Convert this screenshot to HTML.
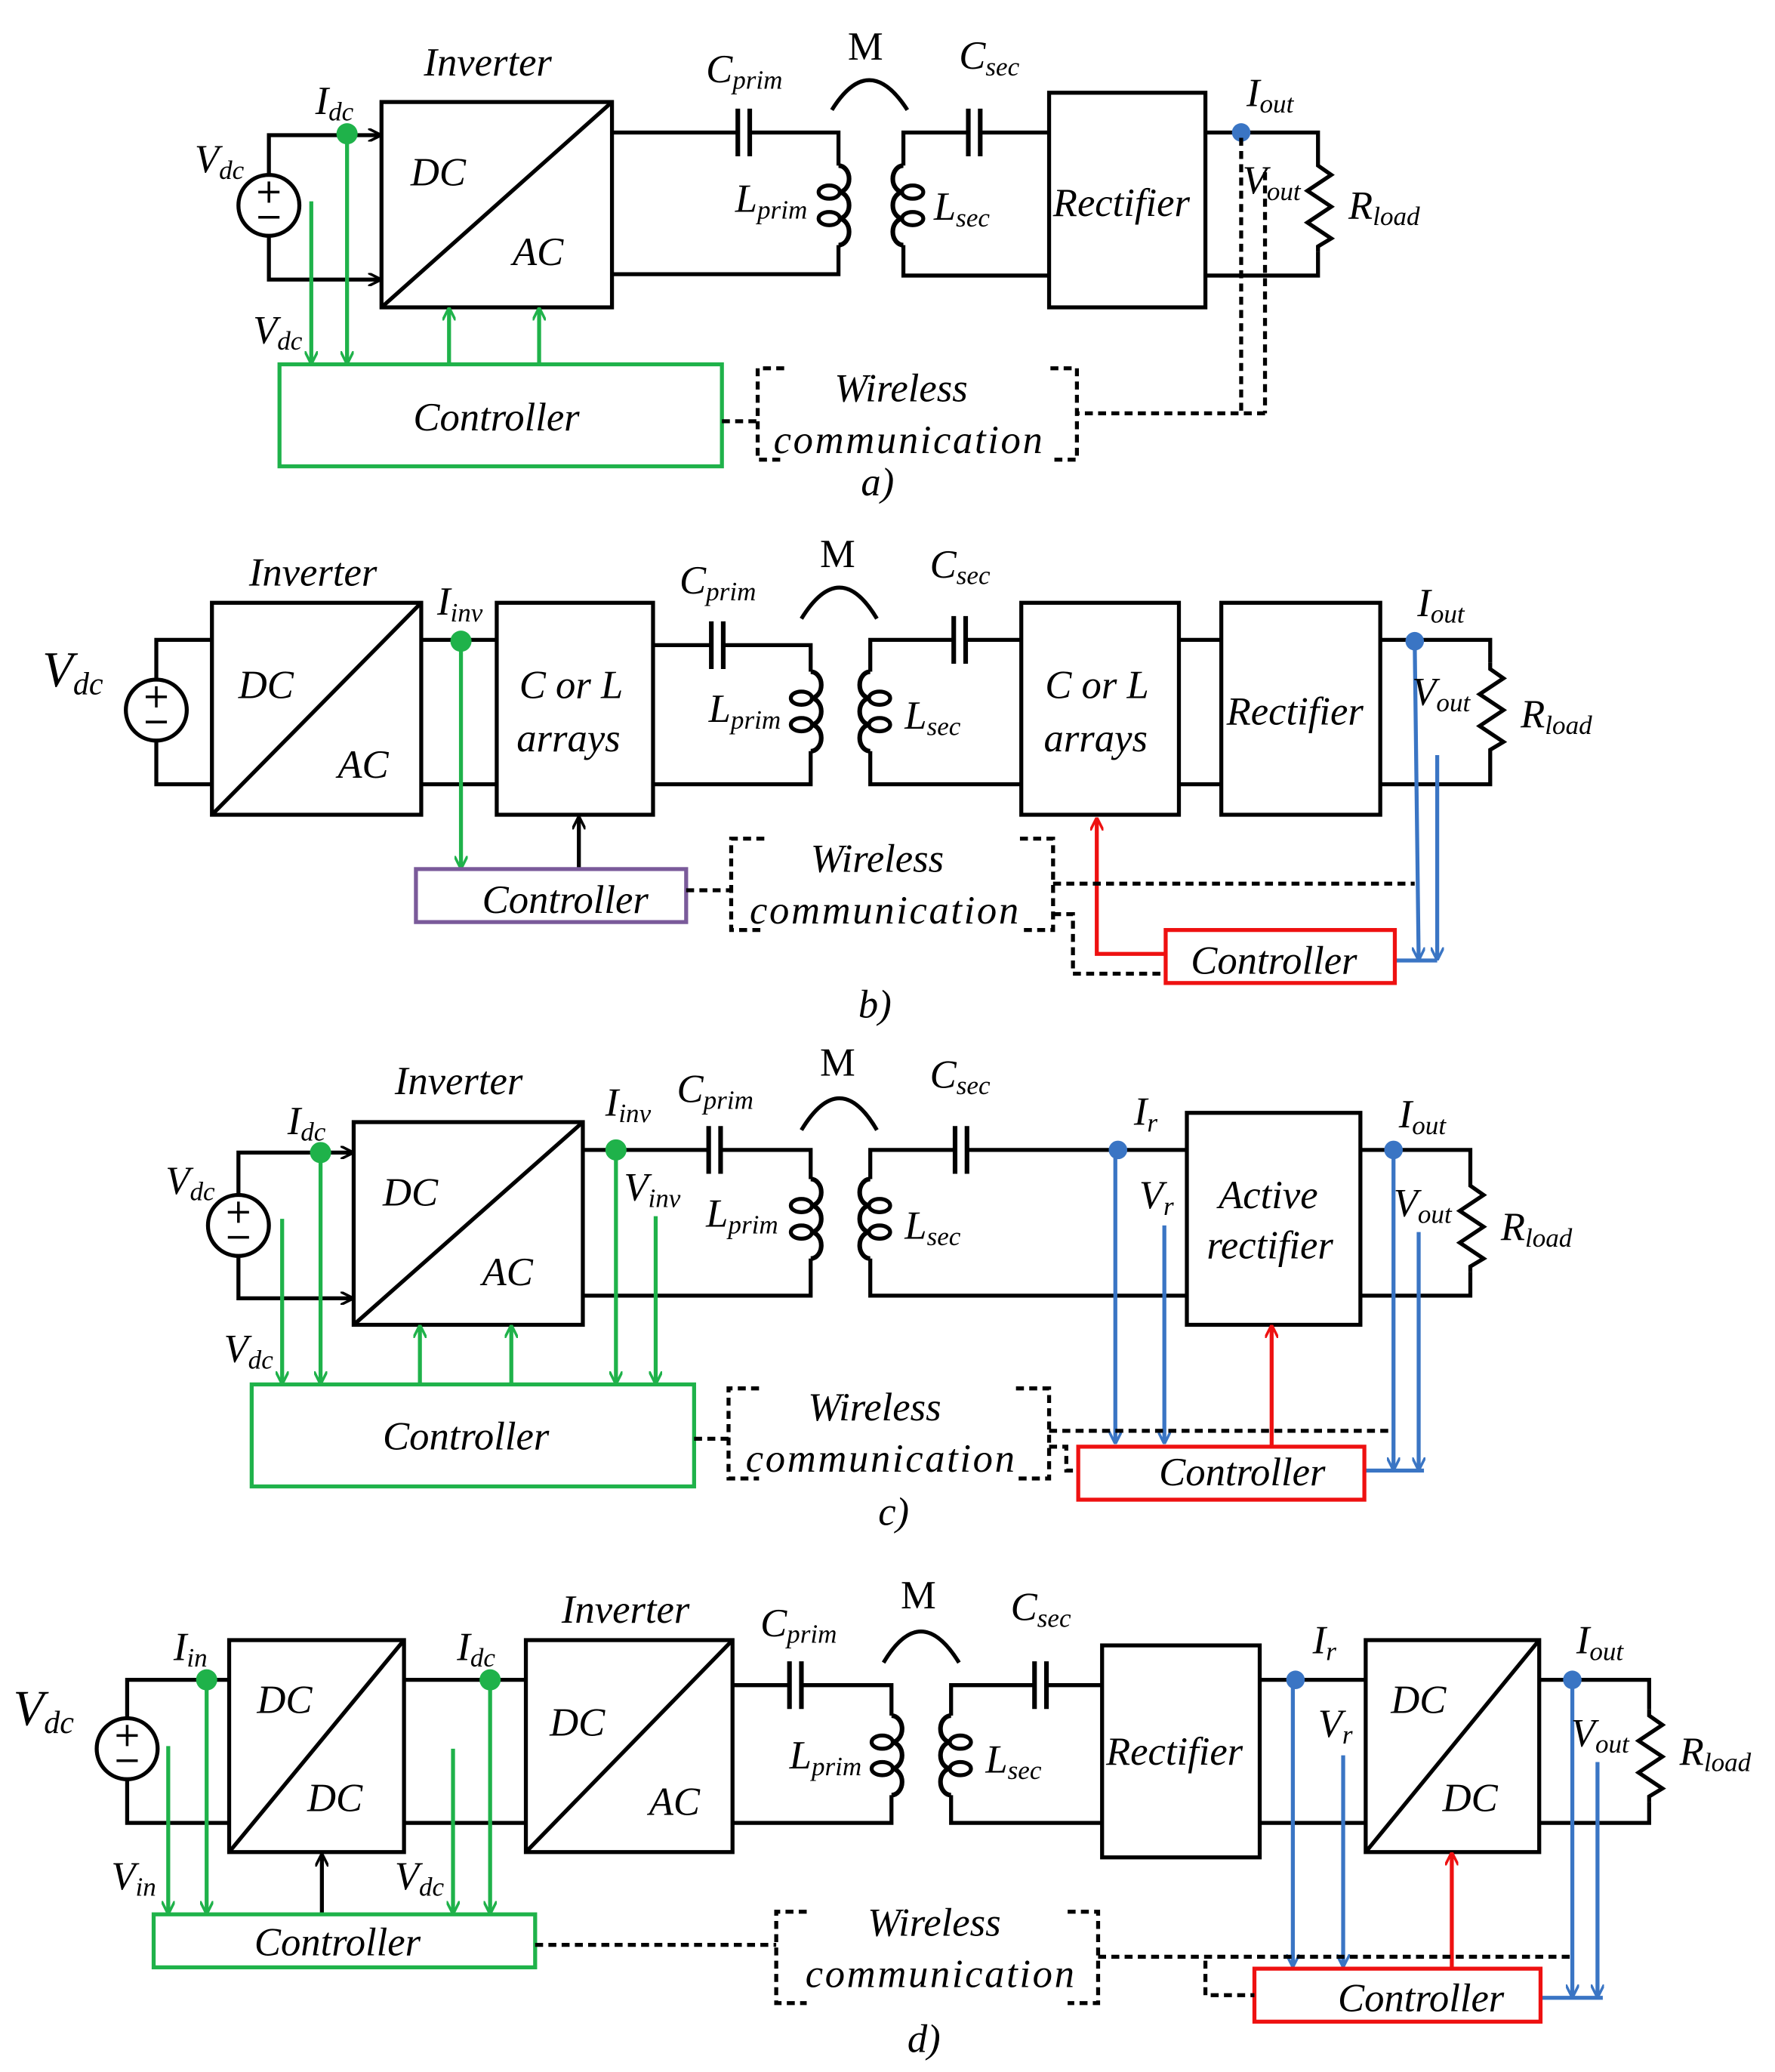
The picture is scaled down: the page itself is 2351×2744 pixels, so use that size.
<!DOCTYPE html>
<html><head><meta charset="utf-8"><style>
html,body{margin:0;padding:0;background:#fff;}
svg{display:block;}
text{font-family:"Liberation Serif",serif;font-style:italic;fill:#000;}
text.up{font-style:normal;}
</style></head><body>
<svg width="2351" height="2744" viewBox="0 0 1340 1564" preserveAspectRatio="none" xmlns="http://www.w3.org/2000/svg">
<defs>
<marker id="ak" markerWidth="10" markerHeight="10" refX="9" refY="5" orient="auto" markerUnits="userSpaceOnUse"><path d="M0,0 L10,5 L0,10" fill="none" stroke="#000" stroke-width="2"/></marker>
<marker id="ag" markerWidth="10" markerHeight="10" refX="9" refY="5" orient="auto" markerUnits="userSpaceOnUse"><path d="M0,0 L10,5 L0,10" fill="none" stroke="#1fb24a" stroke-width="2"/></marker>
<marker id="ab" markerWidth="10" markerHeight="10" refX="9" refY="5" orient="auto" markerUnits="userSpaceOnUse"><path d="M0,0 L10,5 L0,10" fill="none" stroke="#3a75c4" stroke-width="2"/></marker>
<marker id="ar" markerWidth="10" markerHeight="10" refX="9" refY="5" orient="auto" markerUnits="userSpaceOnUse"><path d="M0,0 L10,5 L0,10" fill="none" stroke="#ee1111" stroke-width="2"/></marker>
<g id="src"><circle cx="0" cy="0" r="23" fill="#fff" stroke="#000" stroke-width="3"/><line x1="-8" y1="-10" x2="8" y2="-10" stroke="#000" stroke-width="2"/><line x1="0" y1="-18" x2="0" y2="-2" stroke="#000" stroke-width="2"/><line x1="-8" y1="9" x2="8" y2="9" stroke="#000" stroke-width="2"/></g>
<g id="cp"><path d="M0,0 a8,10 0 0 1 0,20 a8,10 0 0 1 0,20 a8,10 0 0 1 0,20" fill="none" stroke="#000" stroke-width="3.5"/><ellipse cx="-7" cy="20" rx="8" ry="5" fill="none" stroke="#000" stroke-width="3"/><ellipse cx="-7" cy="40" rx="8" ry="5" fill="none" stroke="#000" stroke-width="3"/></g>
<g id="cs"><path d="M0,0 a8,10 0 0 0 0,20 a8,10 0 0 0 0,20 a8,10 0 0 0 0,20" fill="none" stroke="#000" stroke-width="3.5"/><ellipse cx="7" cy="20" rx="8" ry="5" fill="none" stroke="#000" stroke-width="3"/><ellipse cx="7" cy="40" rx="8" ry="5" fill="none" stroke="#000" stroke-width="3"/></g>
<g id="res"><path d="M0,0 L0,5 L10,12 L-8,24 L10,36 L-8,48 L10,60 L0,66 L0,70" fill="none" stroke="#000" stroke-width="3"/></g>
<g id="cap"><line x1="0" y1="-18" x2="0" y2="18" stroke="#000" stroke-width="3.5"/><line x1="9" y1="-18" x2="9" y2="18" stroke="#000" stroke-width="3.5"/></g>
</defs>

<g fill="none" stroke="#000" stroke-width="3">
<path d="M203,132 V102 H287" marker-end="url(#ak)"/>
<path d="M203,178 V211 H287" marker-end="url(#ak)"/>
<rect x="288" y="77" width="174" height="155"/>
<line x1="288" y1="232" x2="462" y2="77"/>
<path d="M462,100 H557 M566,100 H633 V125 M633,185 V207 H462"/>
<path d="M628,83 Q656,38 685,83"/>
<path d="M792,100 H740 M731,100 H682 V125 M682,185 V208 H792"/>
<rect x="792" y="70" width="118" height="162"/>
<path d="M910,100 H995 V120 M995,190 V208 H910"/>
<path d="M118,513 V483 H160 M118,559 V592 H160"/>
<rect x="160" y="455" width="158" height="160"/>
<line x1="160" y1="615" x2="318" y2="455"/>
<path d="M318,483 H375 M318,592 H375"/>
<rect x="375" y="455" width="118" height="160"/>
<path d="M493,487 H537 M546,487 H612 V507 M612,567 V592 H493"/>
<path d="M605,467 Q634,420 662,467"/>
<path d="M771,483 H729 M720,483 H657 V507 M657,567 V592 H771"/>
<rect x="771" y="455" width="119" height="160"/>
<path d="M890,483 H922 M890,592 H922"/>
<rect x="922" y="455" width="120" height="160"/>
<path d="M1042,483 H1125 V500 M1125,570 V592 H1042"/>
<path d="M437,656 V617" marker-end="url(#ak)"/>
<path d="M180,902 V870 H266" marker-end="url(#ak)"/>
<path d="M180,948 V980 H266" marker-end="url(#ak)"/>
<rect x="267" y="847" width="173" height="153"/>
<line x1="267" y1="1000" x2="440" y2="847"/>
<path d="M440,868 H535 M544,868 H612 V890 M612,950 V978 H440"/>
<path d="M605,853 Q634,805 662,853"/>
<path d="M896,868 H730 M721,868 H657 V890 M657,950 V978 H896"/>
<rect x="896" y="840" width="131" height="160"/>
<path d="M1027,868 H1110 V890 M1110,960 V978 H1027"/>
<path d="M96,1297 V1268 H173 M96,1343 V1376 H173"/>
<rect x="173" y="1238" width="132" height="160"/>
<line x1="173" y1="1398" x2="305" y2="1238"/>
<path d="M305,1268 H397 M305,1376 H397"/>
<rect x="397" y="1238" width="156" height="160"/>
<line x1="397" y1="1398" x2="553" y2="1238"/>
<path d="M553,1272 H596 M605,1272 H673 V1295 M673,1355 V1376 H553"/>
<path d="M667,1255 Q695,1208 724,1255"/>
<path d="M832,1272 H790 M781,1272 H718 V1295 M718,1355 V1376 H832"/>
<rect x="832" y="1242" width="119" height="160"/>
<path d="M951,1268 H1031 M951,1376 H1031"/>
<rect x="1031" y="1238" width="131" height="160"/>
<line x1="1031" y1="1398" x2="1162" y2="1238"/>
<path d="M1162,1268 H1245 V1290 M1245,1360 V1376 H1162"/>
<path d="M243,1445 V1400" marker-end="url(#ak)"/>
</g>

<use href="#src" x="203" y="155"/><use href="#src" x="118" y="536"/><use href="#src" x="180" y="925"/><use href="#src" x="96" y="1320"/>
<use href="#cap" x="557" y="100"/><use href="#cap" x="731" y="100"/>
<use href="#cap" x="537" y="487"/><use href="#cap" x="720" y="483"/>
<use href="#cap" x="535" y="868"/><use href="#cap" x="721" y="868"/>
<use href="#cap" x="596" y="1272"/><use href="#cap" x="781" y="1272"/>
<use href="#cp" x="633" y="125"/><use href="#cs" x="682" y="125"/>
<use href="#cp" x="612" y="507"/><use href="#cs" x="657" y="507"/>
<use href="#cp" x="612" y="890"/><use href="#cs" x="657" y="890"/>
<use href="#cp" x="673" y="1295"/><use href="#cs" x="718" y="1295"/>
<use href="#res" x="995" y="120"/><use href="#res" x="1125" y="500"/><use href="#res" x="1110" y="890"/><use href="#res" x="1245" y="1290"/>

<g fill="none" stroke="#1fb24a" stroke-width="3">
<rect x="211" y="275" width="334" height="77"/>
<path d="M235,152 V274" marker-end="url(#ag)"/>
<path d="M262,101 V274" marker-end="url(#ag)"/>
<path d="M339,275 V233" marker-end="url(#ag)"/>
<path d="M407,275 V233" marker-end="url(#ag)"/>
<path d="M348,484 V655" marker-end="url(#ag)"/>
<rect x="190" y="1045" width="334" height="77"/>
<path d="M213,920 V1044" marker-end="url(#ag)"/>
<path d="M242,870 V1044" marker-end="url(#ag)"/>
<path d="M317,1045 V1001" marker-end="url(#ag)"/>
<path d="M386,1045 V1001" marker-end="url(#ag)"/>
<path d="M465,868 V1044" marker-end="url(#ag)"/>
<path d="M495,918 V1044" marker-end="url(#ag)"/>
<rect x="116" y="1445" width="288" height="40"/>
<path d="M127,1318 V1444" marker-end="url(#ag)"/>
<path d="M156,1268 V1444" marker-end="url(#ag)"/>
<path d="M342,1320 V1444" marker-end="url(#ag)"/>
<path d="M370,1268 V1444" marker-end="url(#ag)"/>
</g>
<g fill="#1fb24a"><circle cx="262" cy="101" r="8"/><circle cx="348" cy="484" r="8"/><circle cx="242" cy="870" r="8"/><circle cx="465" cy="868" r="8"/><circle cx="156" cy="1268" r="8"/><circle cx="370" cy="1268" r="8"/></g>

<rect x="314" y="656" width="204" height="40" fill="none" stroke="#7a5a9a" stroke-width="3"/>

<g fill="none" stroke="#3a75c4" stroke-width="3">
<path d="M1068,484 L1071,724" marker-end="url(#ab)"/>
<path d="M1085,570 V724" marker-end="url(#ab)"/>
<path d="M1053,725 H1085"/>
<path d="M842,868 V1089" marker-end="url(#ab)"/>
<path d="M879,925 V1089" marker-end="url(#ab)"/>
<path d="M1052,868 V1109" marker-end="url(#ab)"/>
<path d="M1071,930 V1109" marker-end="url(#ab)"/>
<path d="M1030,1110 H1075"/>
<path d="M976,1268 V1484" marker-end="url(#ab)"/>
<path d="M1014,1325 V1484" marker-end="url(#ab)"/>
<path d="M1187,1268 V1507" marker-end="url(#ab)"/>
<path d="M1206,1330 V1507" marker-end="url(#ab)"/>
<path d="M1163,1508 H1210"/>
</g>
<g fill="#3a75c4"><circle cx="937" cy="100" r="7"/><circle cx="1068" cy="484" r="7"/><circle cx="844" cy="868" r="7"/><circle cx="1052" cy="868" r="7"/><circle cx="978" cy="1268" r="7"/><circle cx="1187" cy="1268" r="7"/></g>

<g fill="none" stroke="#ee1111" stroke-width="3">
<rect x="880" y="702" width="173" height="40"/>
<path d="M880,720 H828 V618" marker-end="url(#ar)"/>
<rect x="814" y="1092" width="216" height="40"/>
<path d="M960,1092 V1001" marker-end="url(#ar)"/>
<rect x="947" y="1486" width="216" height="40"/>
<path d="M1096,1486 V1399" marker-end="url(#ar)"/>
</g>

<g fill="none" stroke="#000" stroke-width="3" stroke-dasharray="6,4">
<path d="M937,104 V312 M955,130 V312 M955,312 H813"/>
<path d="M545,318 H572"/>
<path d="M592,278 H572 V347 H592 M793,278 H813 V347 H793"/>
<path d="M518,672 H552"/>
<path d="M577,633 H552 V702 H577 M770,633 H795 V702 H770"/>
<path d="M795,667 H1068 M795,690 H810 V735 H880"/>
<path d="M524,1086 H550"/>
<path d="M573,1048 H550 V1116 H573 M767,1048 H792 V1116 H767"/>
<path d="M792,1080 H1052 M792,1092 H805 V1110 H814"/>
<path d="M404,1468 H586"/>
<path d="M609,1443 H586 V1512 H609 M806,1443 H829 V1512 H806"/>
<path d="M829,1477 H1187 M910,1480 V1506 H947"/>
</g>

<g font-size="30">
<text x="320" y="57">Inverter</text>
<text x="238" y="86">I<tspan font-size="20" dy="5">dc</tspan></text>
<text x="147" y="130">V<tspan font-size="20" dy="5">dc</tspan></text>
<text x="191" y="259">V<tspan font-size="20" dy="5">dc</tspan></text>
<text x="310" y="140">DC</text><text x="387" y="200">AC</text>
<text x="533" y="62">C<tspan font-size="20" dy="5">prim</tspan></text>
<text class="up" x="640" y="45">M</text>
<text x="724" y="52">C<tspan font-size="20" dy="5">sec</tspan></text>
<text x="555" y="160">L<tspan font-size="20" dy="5">prim</tspan></text>
<text x="705" y="166">L<tspan font-size="20" dy="5">sec</tspan></text>
<text x="795" y="163">Rectifier</text>
<text x="941" y="80">I<tspan font-size="20" dy="5">out</tspan></text>
<text x="938" y="146">V<tspan font-size="20" dy="5">out</tspan></text>
<text x="1018" y="165">R<tspan font-size="20" dy="5">load</tspan></text>
<text x="312" y="325">Controller</text>
<text x="630" y="303">Wireless</text>
<text x="584" y="342" textLength="203">communication</text>
<text x="650" y="374">a)</text>

<text x="32" y="518" font-size="38">V<tspan font-size="24" dy="6">dc</tspan></text>
<text x="188" y="442">Inverter</text>
<text x="180" y="527">DC</text><text x="255" y="587">AC</text>
<text x="330" y="464">I<tspan font-size="20" dy="5">inv</tspan></text>
<text x="392" y="527">C or L</text><text x="390" y="567">arrays</text>
<text x="513" y="448">C<tspan font-size="20" dy="5">prim</tspan></text>
<text class="up" x="619" y="428">M</text>
<text x="702" y="436">C<tspan font-size="20" dy="5">sec</tspan></text>
<text x="535" y="545">L<tspan font-size="20" dy="5">prim</tspan></text>
<text x="683" y="550">L<tspan font-size="20" dy="5">sec</tspan></text>
<text x="789" y="527">C or L</text><text x="788" y="567">arrays</text>
<text x="926" y="547">Rectifier</text>
<text x="1070" y="465">I<tspan font-size="20" dy="5">out</tspan></text>
<text x="1066" y="532">V<tspan font-size="20" dy="5">out</tspan></text>
<text x="1148" y="549">R<tspan font-size="20" dy="5">load</tspan></text>
<text x="364" y="689">Controller</text>
<text x="612" y="658">Wireless</text>
<text x="566" y="697" textLength="203">communication</text>
<text x="899" y="735">Controller</text>
<text x="648" y="768">b)</text>

<text x="125" y="901">V<tspan font-size="20" dy="5">dc</tspan></text>
<text x="298" y="826">Inverter</text>
<text x="217" y="856">I<tspan font-size="20" dy="5">dc</tspan></text>
<text x="289" y="910">DC</text><text x="364" y="970">AC</text>
<text x="169" y="1028">V<tspan font-size="20" dy="5">dc</tspan></text>
<text x="457" y="842">I<tspan font-size="20" dy="5">inv</tspan></text>
<text x="471" y="906">V<tspan font-size="20" dy="5">inv</tspan></text>
<text x="511" y="832">C<tspan font-size="20" dy="5">prim</tspan></text>
<text class="up" x="619" y="812">M</text>
<text x="702" y="821">C<tspan font-size="20" dy="5">sec</tspan></text>
<text x="533" y="926">L<tspan font-size="20" dy="5">prim</tspan></text>
<text x="683" y="935">L<tspan font-size="20" dy="5">sec</tspan></text>
<text x="856" y="849">I<tspan font-size="20" dy="5">r</tspan></text>
<text x="860" y="912">V<tspan font-size="20" dy="5">r</tspan></text>
<text x="920" y="912">Active</text><text x="911" y="950">rectifier</text>
<text x="1056" y="851">I<tspan font-size="20" dy="5">out</tspan></text>
<text x="1052" y="918">V<tspan font-size="20" dy="5">out</tspan></text>
<text x="1133" y="936">R<tspan font-size="20" dy="5">load</tspan></text>
<text x="289" y="1094">Controller</text>
<text x="610" y="1072">Wireless</text>
<text x="563" y="1111" textLength="203">communication</text>
<text x="875" y="1121">Controller</text>
<text x="663" y="1151">c)</text>

<text x="10" y="1302" font-size="38">V<tspan font-size="24" dy="6">dc</tspan></text>
<text x="131" y="1253">I<tspan font-size="20" dy="5">in</tspan></text>
<text x="194" y="1293">DC</text><text x="232" y="1367">DC</text>
<text x="84" y="1426">V<tspan font-size="20" dy="5">in</tspan></text>
<text x="345" y="1253">I<tspan font-size="20" dy="5">dc</tspan></text>
<text x="298" y="1426">V<tspan font-size="20" dy="5">dc</tspan></text>
<text x="424" y="1225">Inverter</text>
<text x="415" y="1310">DC</text><text x="490" y="1370">AC</text>
<text x="574" y="1235">C<tspan font-size="20" dy="5">prim</tspan></text>
<text class="up" x="680" y="1214">M</text>
<text x="763" y="1223">C<tspan font-size="20" dy="5">sec</tspan></text>
<text x="596" y="1335">L<tspan font-size="20" dy="5">prim</tspan></text>
<text x="744" y="1338">L<tspan font-size="20" dy="5">sec</tspan></text>
<text x="835" y="1332">Rectifier</text>
<text x="991" y="1248">I<tspan font-size="20" dy="5">r</tspan></text>
<text x="995" y="1311">V<tspan font-size="20" dy="5">r</tspan></text>
<text x="1050" y="1293">DC</text><text x="1089" y="1367">DC</text>
<text x="1190" y="1248">I<tspan font-size="20" dy="5">out</tspan></text>
<text x="1186" y="1318">V<tspan font-size="20" dy="5">out</tspan></text>
<text x="1268" y="1332">R<tspan font-size="20" dy="5">load</tspan></text>
<text x="192" y="1476">Controller</text>
<text x="655" y="1461">Wireless</text>
<text x="608" y="1500" textLength="203">communication</text>
<text x="1010" y="1518">Controller</text>
<text x="685" y="1549">d)</text>
</g>
</svg>
</body></html>
